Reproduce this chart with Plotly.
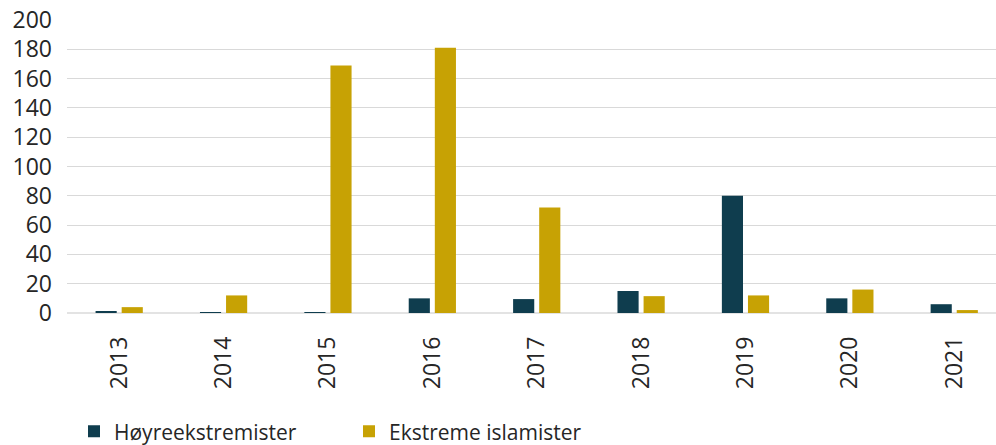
import plotly.graph_objects as go

years = ["2013", "2014", "2015", "2016", "2017", "2018", "2019", "2020", "2021"]
hoyre = [1, 0.3, 0.3, 10, 9.5, 15, 80, 10, 6]
islam = [4, 12, 169, 181, 72, 11.5, 12, 16, 2]
y_ticks = [0, 20, 40, 60, 80, 100, 120, 140, 160, 180, 200]

fig = go.Figure()
fig.add_trace(go.Bar(x=years, y=hoyre, name="Høyreekstremister", marker_color="#0F3D4E", marker_line_width=0))
fig.add_trace(go.Bar(x=years, y=islam, name="Ekstreme islamister", marker_color="#C7A204", marker_line_width=0))

fig.update_layout(
    width=996, height=445,
    margin=dict(l=67, r=0, t=20, b=132, autoexpand=False),
    paper_bgcolor="white", plot_bgcolor="white",
    font=dict(family="Open Sans", size=23, color="#262626"),
    barmode="group", bargap=0.50, bargroupgap=0.19,
    showlegend=True,
    legend=dict(orientation="h", xref="container", yref="paper", x=0.0743, y=-0.405, xanchor="left", yanchor="middle",
                font=dict(size=21), entrywidth=230, entrywidthmode="pixels", itemsizing="constant",
                borderwidth=0, bgcolor="rgba(0,0,0,0)"),
    xaxis=dict(range=[-0.5, 8.4], showgrid=False, zeroline=False, showline=False, tickangle=-90,
               ticks="", ticklabelstandoff=18, tickfont=dict(size=23), automargin=False),
    yaxis=dict(range=[0, 200], tickvals=y_ticks, showgrid=True, gridcolor="#D9D9D9", gridwidth=1,
               zeroline=True, zerolinecolor="#E3E3E3", zerolinewidth=2, ticks="", ticklabelstandoff=14,
               tickfont=dict(size=23), automargin=False),
)
fig.write_html("out.html", config={"displayModeBar": False},
               post_script="document.body.style.margin='0px';")
